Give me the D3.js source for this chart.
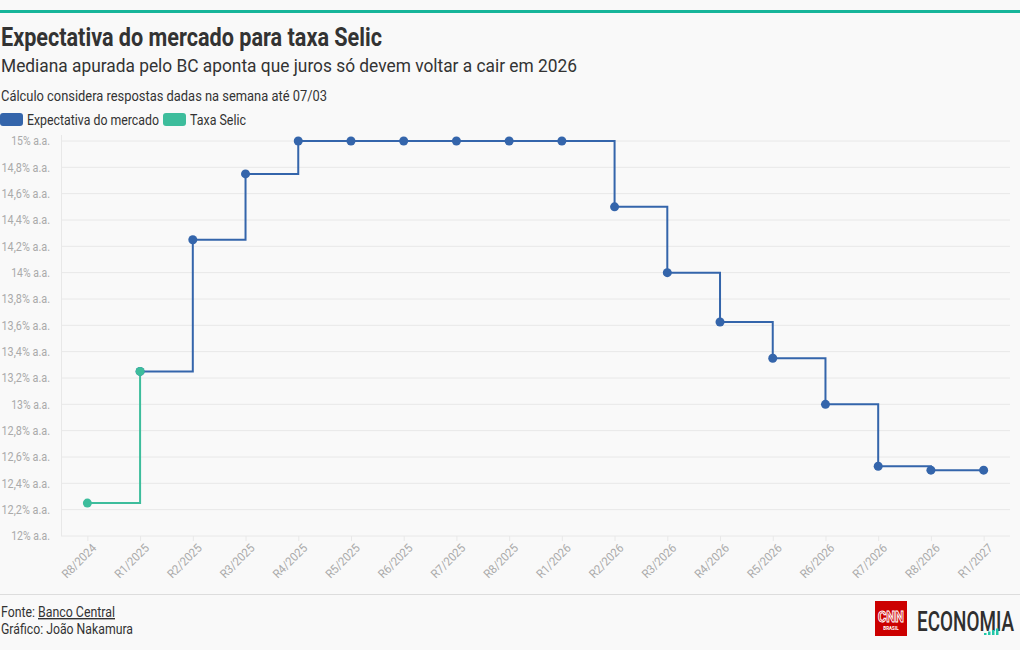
<!DOCTYPE html>
<html><head><meta charset="utf-8">
<script src="https://cdn.jsdelivr.net/npm/d3@7"></script>
<style>
html,body{margin:0;padding:0;background:#f9f9f9;}
svg{display:block;font-family:Roboto,"Noto Sans",sans-serif;}
</style></head>
<body>
<svg id="c" width="1020" height="650"></svg>
<script>
const categories = ["R8/2024","R1/2025","R2/2025","R3/2025","R4/2025","R5/2025","R6/2025","R7/2025","R8/2025","R1/2026","R2/2026","R3/2026","R4/2026","R5/2026","R6/2026","R7/2026","R8/2026","R1/2027"];
const selicCats = ["R8/2024","R1/2025"];
const selicValues = [12.25, 13.25];
const expCats = ["R1/2025","R2/2025","R3/2025","R4/2025","R5/2025","R6/2025","R7/2025","R8/2025","R1/2026","R2/2026","R3/2026","R4/2026","R5/2026","R6/2026","R7/2026","R8/2026","R1/2027"];
const expValues = [13.25,14.25,14.75,15,15,15,15,15,15,14.5,14.0,13.625,13.35,13.0,12.53,12.5,12.5];
const yTicks = [12,12.2,12.4,12.6,12.8,13,13.2,13.4,13.6,13.8,14,14.2,14.4,14.6,14.8,15];

const svg = d3.select("#c");
const W = 1020;
const blue = "#3465ab", teal = "#3dbd9c";

// top bar
svg.append("rect").attr("x",0).attr("y",10).attr("width",W).attr("height",3).attr("fill","#17b59a");

function fitText(sel, len){ sel.attr("textLength",len).attr("lengthAdjust","spacingAndGlyphs"); return sel; }
fitText(svg.append("text").attr("x",1).attr("y",46).attr("font-size",25.5).attr("font-weight",700).attr("fill","#333")
  .text("Expectativa do mercado para taxa Selic"), 381);
fitText(svg.append("text").attr("x",1).attr("y",72).attr("font-size",19).attr("fill","#333")
  .text("Mediana apurada pelo BC aponta que juros só devem voltar a cair em 2026"), 576);
fitText(svg.append("text").attr("x",1).attr("y",101).attr("font-size",15.5).attr("fill","#333")
  .text("Cálculo considera respostas dadas na semana até 07/03"), 326);

// legend
const leg = svg.append("g");
[[0, blue, "Expectativa do mercado", 132],[163, teal, "Taxa Selic", 56]].forEach(([x,c,t,l])=>{
  leg.append("rect").attr("x",x).attr("y",113).attr("width",23).attr("height",13).attr("rx",3).attr("fill",c);
  fitText(leg.append("text").attr("x",x+27).attr("y",125).attr("font-size",14).attr("fill","#333").text(t), l);
});

const m = {l:61, r:1010, t:141, b:536};
const x = d3.scalePoint().domain(categories).range([m.l, m.r]).padding(0.5);
const y = d3.scaleLinear().domain([12,15]).range([m.b, m.t]);

const fmt = v => d3.format(".1~f")(v).replace(".",",") + "% a.a.";

// grid
svg.append("g").selectAll("line").data(yTicks).join("line")
  .attr("x1",m.l).attr("x2",m.r).attr("y1",d=>y(d)).attr("y2",d=>y(d))
  .attr("stroke","#e8e8e8").attr("stroke-width",1);
svg.append("line").attr("x1",m.l+0.5).attr("x2",m.l+0.5).attr("y1",m.t-6).attr("y2",m.b)
  .attr("stroke","#e8e8e8");

// y axis
const ya = svg.append("g").attr("transform",`translate(${m.l},0)`)
  .call(d3.axisLeft(y).tickValues(yTicks).tickFormat(fmt).tickSize(0).tickPadding(11));
ya.select(".domain").remove();
ya.selectAll("text").attr("font-size",12).attr("fill","#aaa").attr("font-family","Roboto")
  .each(function(d){ const t = fmt(d); d3.select(this).attr("textLength", t.length*4.85).attr("lengthAdjust","spacingAndGlyphs"); });

// x axis
const xa = svg.append("g").attr("transform",`translate(0,${m.b})`)
  .call(d3.axisBottom(x).tickSize(5).tickPadding(4));
xa.select(".domain").remove();
xa.selectAll(".tick line").attr("stroke","#e8e8e8");
xa.selectAll("text").attr("font-size",12).attr("fill","#aaa").attr("font-family","Roboto")
  .attr("text-anchor","end").attr("dx","-0.2em").attr("dy","0.55em")
  .attr("textLength",43).attr("lengthAdjust","spacingAndGlyphs")
  .attr("transform","rotate(-45)");

// lines
const line = d3.line().curve(d3.curveStepAfter).x(d=>x(d[0])).y(d=>y(d[1]));
const expData = expCats.map((c,i)=>[c,expValues[i]]);
const selData = selicCats.map((c,i)=>[c,selicValues[i]]);
svg.append("path").datum(expData).attr("d",line).attr("fill","none").attr("stroke",blue).attr("stroke-width",2);
svg.append("path").datum(selData).attr("d",line).attr("fill","none").attr("stroke",teal).attr("stroke-width",2);
svg.append("g").selectAll("circle").data(expData).join("circle")
  .attr("cx",d=>x(d[0])).attr("cy",d=>y(d[1])).attr("r",4.5).attr("fill",blue);
svg.append("g").selectAll("circle").data(selData).join("circle")
  .attr("cx",d=>x(d[0])).attr("cy",d=>y(d[1])).attr("r",4.5).attr("fill",teal);

// footer
svg.append("line").attr("x1",0).attr("x2",W).attr("y1",594.5).attr("y2",594.5).attr("stroke","#ddd");
fitText(svg.append("text").attr("x",1).attr("y",617).attr("font-size",14).attr("fill","#333").text("Fonte:"), 34);
fitText(svg.append("text").attr("x",38).attr("y",617).attr("font-size",14).attr("fill","#333")
  .attr("text-decoration","underline").text("Banco Central"), 77);
fitText(svg.append("text").attr("x",1).attr("y",634).attr("font-size",14).attr("fill","#333").text("Gráfico: João Nakamura"), 132);

// logo
const lg = svg.append("g");
lg.append("rect").attr("x",875).attr("y",601).attr("width",32).attr("height",35).attr("fill","#cc0000");
fitText(lg.append("text").attr("x",878).attr("y",622).attr("font-size",15).attr("font-weight",700)
  .attr("fill","none").attr("stroke","#fff").attr("stroke-width",1).text("CNN"), 26);
lg.append("text").attr("x",891).attr("y",630).attr("text-anchor","middle").attr("font-size",4.5).attr("font-weight",700)
  .attr("fill","#fff").text("BRASIL");
fitText(lg.append("text").attr("x",917).attr("y",631).attr("font-size",27).attr("font-weight",500).attr("fill","#2f2f2f").text("ECONOMIA"), 97);
[[984,629],[988,627.5],[992,626],[996,624.5]].forEach(([bx,by])=>{
  lg.append("rect").attr("x",bx).attr("y",by+4).attr("width",2.5).attr("height",631-by).attr("fill","#21c7a8");
});
</script>
</body></html>
